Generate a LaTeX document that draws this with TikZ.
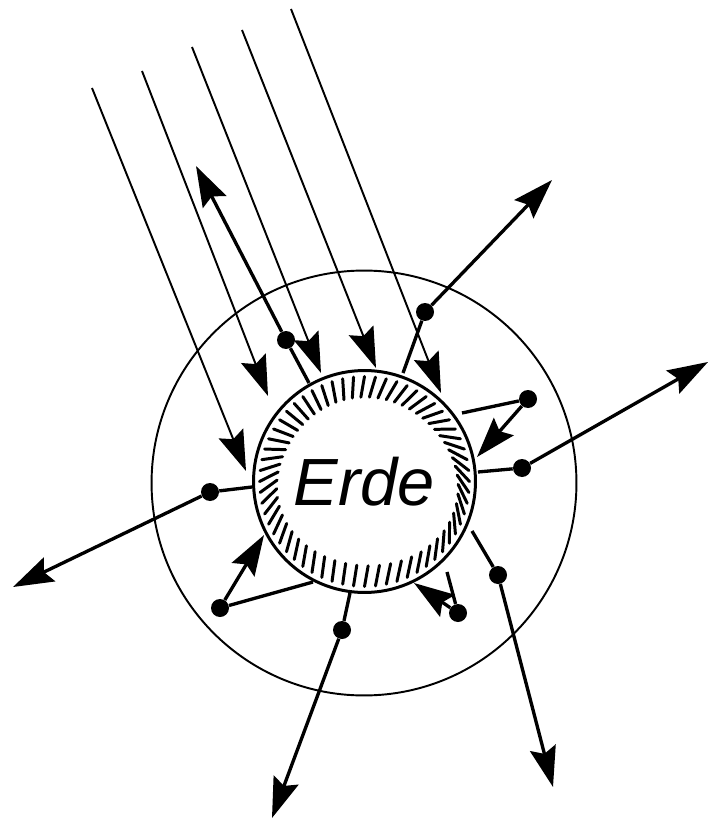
\documentclass[tikz,border=0pt]{standalone}
\usepackage{fontspec}
\newfontfamily\erdefont{Liberation Sans}
\usetikzlibrary{arrows.meta,positioning,calc}

\begin{document}
\begin{tikzpicture}[x=0.02cm,y=-0.02cm,
  tip/.style={-{Stealth[length=23pt,width=15pt,inset=3.5pt]}},
  ray/.style={line width=1.1pt},
  beam/.style={line width=1.9pt},
  blob/.style={circle,fill,inner sep=0pt,minimum size=0.36cm},
  hatch/.style={line width=1.7pt,line cap=round}]
\useasboundingbox (0,0) rectangle (720,827);
% the earth and its atmosphere
\node[circle,draw,line width=1.7pt,inner sep=0pt,minimum size=4.44cm,
  font=\erdefont\itshape\fontsize{38}{42}\selectfont] (earth) at (364.5,481.5) {Erde};
\node[circle,draw,line width=1.1pt,inner sep=0pt,minimum size=8.5cm] (atmo) at (364,483) {};
\foreach \a in {0,6,...,354}{
  \pgfmathsetmacro\hd{\a+180-10-37*cos(\a)+15*sin(2*\a)}
  \draw[hatch] ({364.5+105*cos(\a)},{481.5-105*sin(\a)}) -- ++({21*cos(\hd)},{-21*sin(\hd)});
}
% incoming radiation
\coordinate (in1) at (92,88);   \coordinate (hit1) at (246,471);
\coordinate (in2) at (142,71);  \coordinate (hit2) at (268,396);
\coordinate (in3) at (192,47);  \coordinate (hit3) at (321,373);
\coordinate (in4) at (242,30);  \coordinate (hit4) at (376,368);
\coordinate (in5) at (291,9);   \coordinate (hit5) at (441,393);
\foreach \i in {1,...,5}
  \draw[ray,tip] (in\i) -- (hit\i);
% scattering points
\node[blob] (dA) at (286,340) {};
\node[blob] (dB) at (425,312) {};
\node[blob] (dC) at (528,399) {};
\node[blob] (dD) at (522,468) {};
\node[blob] (dE) at (210,492) {};
\node[blob] (dF) at (220,608) {};
\node[blob] (dG) at (342,630) {};
\node[blob] (dH) at (458,613) {};
\node[blob] (dJ) at (498,575) {};
% starting points near the ground and free ends
\coordinate (sA) at (309,383); \coordinate (tA) at (196,166);
\coordinate (sB) at (403,373); \coordinate (tB) at (552,180);
\coordinate (sC) at (462,413); \coordinate (tC) at (477,457);
\coordinate (sD) at (478,472); \coordinate (tD) at (708,362);
\coordinate (sE) at (252,487); \coordinate (tE) at (13,587);
\coordinate (sF) at (313,582); \coordinate (tF) at (264,535);
\coordinate (sG) at (350,593); \coordinate (tG) at (272,818);
\coordinate (sH) at (447,572); \coordinate (tH) at (414,583);
\coordinate (sJ) at (472,531); \coordinate (tJ) at (553,787);
\foreach \k in {A,B,C,D,E,F,G,H,J}{
  \draw[beam] (s\k) -- (d\k);
  \draw[beam,tip] (d\k) -- (t\k);
}
\end{tikzpicture}
\end{document}
